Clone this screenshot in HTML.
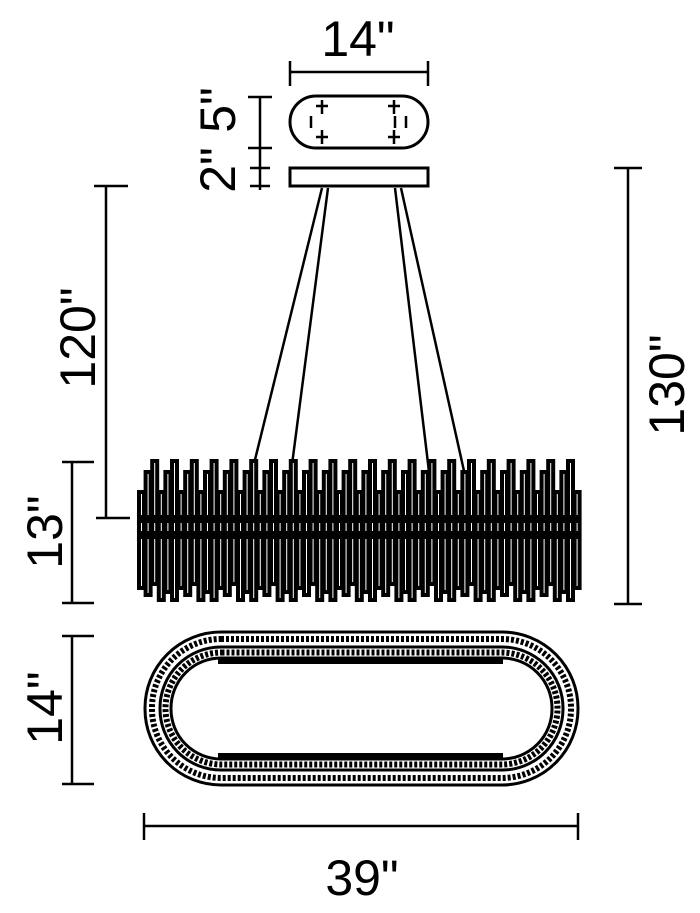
<!DOCTYPE html>
<html><head><meta charset="utf-8"><style>
html,body{margin:0;padding:0;background:#fff;}
svg{display:block}
text{font-family:"Liberation Sans",sans-serif;font-size:50px;fill:#000}
</style></head><body>
<svg id="s" width="700" height="913" viewBox="0 0 700 913" xmlns="http://www.w3.org/2000/svg">
<g stroke="#000" stroke-width="2.5" fill="none">
<line x1="290" y1="72" x2="428" y2="72"/><line x1="290" y1="61" x2="290" y2="86"/><line x1="428" y1="61" x2="428" y2="86"/>
<rect x="290" y="96" width="138" height="52" rx="26" stroke-width="3"/>
<rect x="290" y="168" width="138" height="18" stroke-width="3"/>
<line x1="260" y1="97" x2="260" y2="190"/><line x1="248" y1="97" x2="272" y2="97"/><line x1="248" y1="148" x2="272" y2="148"/>
<line x1="250" y1="168" x2="270" y2="168"/><line x1="250" y1="186" x2="270" y2="186"/>
<line x1="106" y1="186" x2="106" y2="518"/><line x1="94" y1="186" x2="128" y2="186"/><line x1="96" y1="518" x2="130" y2="518"/>
<line x1="628" y1="168" x2="628" y2="604"/><line x1="614" y1="168" x2="642" y2="168"/><line x1="614" y1="604" x2="642" y2="604"/>
<line x1="72" y1="462" x2="72" y2="603"/><line x1="62" y1="462" x2="94" y2="462"/><line x1="62" y1="603" x2="94" y2="603"/>
<line x1="72" y1="636" x2="72" y2="784"/><line x1="62" y1="636" x2="94" y2="636"/><line x1="62" y1="784" x2="94" y2="784"/>
<line x1="144" y1="826" x2="578" y2="826"/><line x1="144" y1="813" x2="144" y2="840"/><line x1="578" y1="813" x2="578" y2="840"/>
<line x1="322" y1="188" x2="250" y2="480"/><line x1="328" y1="188" x2="290" y2="480"/><line x1="395" y1="188" x2="430" y2="480"/><line x1="401" y1="188" x2="466" y2="480"/>
<path d="M322 100v14M316 106h12M322 130v14M316 137h12M394 100v14M388 106h12M394 130v14M388 137h12M311 116v12M395 116v12M406 116v12"/>
<rect x="145" y="632" width="433" height="153" rx="76" stroke-width="3"/>
<rect x="152" y="639" width="419" height="139" rx="69" stroke-width="6" stroke-dasharray="3 2"/>
<rect x="160" y="647" width="403" height="123" rx="61" stroke-width="3"/>
<rect x="165.5" y="652.5" width="392" height="112" rx="56" stroke-width="6" stroke-dasharray="3 2"/>
<rect x="171" y="658" width="381" height="101" rx="50" stroke-width="3"/>
</g>
<rect x="218" y="659" width="285" height="5" fill="#000"/>
<rect x="218" y="753" width="285" height="5" fill="#000"/>
<g id="bars"></g>
<text x="358" y="56" text-anchor="middle">14"</text>
<text x="362" y="895" text-anchor="middle">39"</text>
<text transform="translate(235,110) rotate(-90)" text-anchor="middle">5"</text>
<text transform="translate(235,170) rotate(-90)" text-anchor="middle">2"</text>
<text transform="translate(95,338) rotate(-90)" text-anchor="middle">120"</text>
<text transform="translate(684,385) rotate(-90)" text-anchor="middle">130"</text>
<text transform="translate(62,532) rotate(-90)" text-anchor="middle">13"</text>
<text transform="translate(62,708) rotate(-90)" text-anchor="middle">14"</text>
</svg>
<script>
var g=document.getElementById('bars'),h='';
var tops=[461,488,472,480,466,492,476,484],bots=[600,588,595,584,600,592];
var n=0;
for(var x=139;x<575;x+=6.6){n++;
var t=tops[(n*5+Math.floor(n/3))%tops.length],b=bots[(n*7)%bots.length];
h+='<rect x="'+x.toFixed(1)+'" y="'+t+'" width="5" height="'+(b-t)+'" fill="#fff" stroke="#000" stroke-width="4"/>';}
h+='<rect x="137" y="515" width="443" height="8" fill="#000"/><rect x="137" y="531" width="443" height="8" fill="#000"/>';
g.innerHTML=h;
</script>
</body></html>
